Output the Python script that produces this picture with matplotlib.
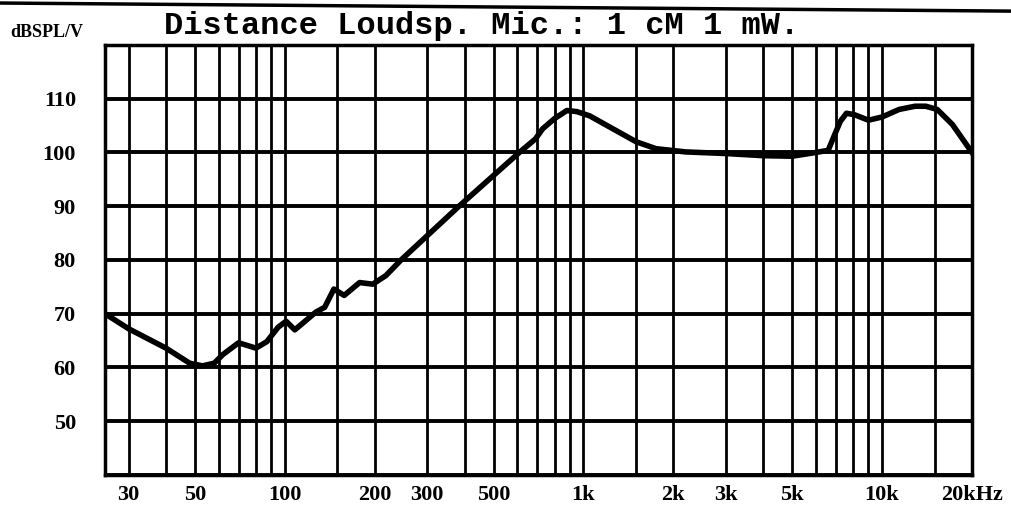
import numpy as np
import matplotlib
matplotlib.use('Agg')
import matplotlib.pyplot as plt

# frequency response
freq = [25, 30, 40, 48, 53, 58, 62, 70, 80, 87, 95, 101, 108, 118, 127, 136, 146, 158,
        178, 197, 218, 245, 383, 610, 690, 730, 800, 880, 950, 1050, 1200, 1500, 1750,
        2200, 3000, 4000, 5000, 6000, 6600, 6900, 7250, 7600, 8100, 9000, 10000, 11400,
        12900, 14000, 15300, 17200, 20000]
spl = [70, 67.2, 63.6, 60.8, 60.3, 60.8, 62.4, 64.6, 63.6, 64.8, 67.5, 68.6, 67.0, 68.8,
       70.3, 71.2, 74.6, 73.4, 75.8, 75.5, 77.1, 80, 90, 100, 102.5, 104.4, 106.3, 107.8,
       107.6, 106.8, 105.0, 102.0, 100.7, 100.1, 99.8, 99.4, 99.3, 100.0, 100.4, 103.0,
       105.8, 107.3, 107.0, 106.0, 106.6, 108.0, 108.6, 108.6, 108.0, 105.2, 100.0]

vgrid = [30, 40, 50, 60, 70, 80, 90, 100, 150, 200, 300, 400, 500, 600, 700, 800, 900,
         1000, 1500, 2000, 3000, 4000, 5000, 6000, 7000, 8000, 9000, 10000, 15000, 20000]
hgrid = [40, 50, 60, 70, 80, 90, 100, 110, 120]
xticks = [30, 50, 100, 200, 300, 500, 1000, 2000, 3000, 5000, 10000, 20000]
xlabels = ['30', '50', '100', '200', '300', '500', '1k', '2k', '3k', '5k', '10k', '20kHz']
yticks = [50, 60, 70, 80, 90, 100, 110]

fig = plt.figure(figsize=(10.11, 5.05), dpi=100)
ax = fig.add_axes([0.1039, 0.0594, 0.8575, 0.8516])
ax.set_xscale('log')
ax.set_xlim(25, 20000)
ax.set_ylim(40, 120)

for f in vgrid:
    ax.axvline(f, color='black', lw=2.0, zorder=1)
for d in hgrid:
    ax.axhline(d, color='black', lw=2.8, zorder=1)

ax.plot(freq, spl, color='black', lw=4.0, solid_joinstyle='round', zorder=3)

for s in ax.spines.values():
    s.set_linewidth(2.5)

ax.minorticks_off()
ax.set_xticks(xticks)
ax.set_xticklabels(xlabels)
ax.set_yticks(yticks)
ax.set_yticklabels([str(v) for v in yticks])
ax.tick_params(length=0)
ax.tick_params(axis='x', pad=7)
ax.tick_params(axis='y', pad=21)
for lab in ax.get_xticklabels() + ax.get_yticklabels():
    lab.set_fontfamily('Liberation Serif')
    lab.set_fontweight('bold')
    lab.set_fontsize(16)

fig.text(0.476, 0.948, 'Distance Loudsp. Mic.: 1 cM 1 mW.', ha='center', va='center',
         fontfamily='Liberation Mono', fontweight='bold', fontsize=23)
fig.text(0.046, 0.936, 'dBSPL/V', ha='center', va='center',
         fontfamily='Liberation Serif', fontweight='bold', fontsize=13)

# top edge of the scanned page
fig.add_artist(plt.Line2D([0, 1], [0.994, 0.978], color='black', lw=2.5,
                          transform=fig.transFigure))

fig.savefig('out.png', dpi=100)
